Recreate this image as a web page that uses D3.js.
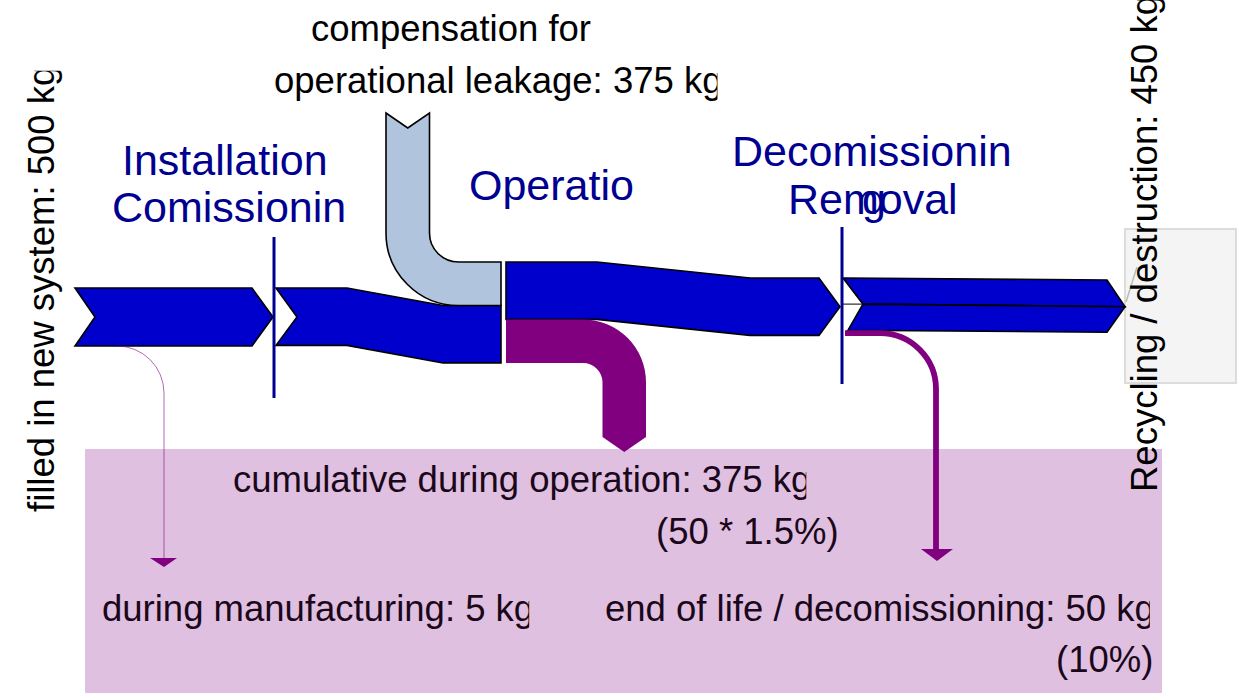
<!DOCTYPE html>
<html>
<head>
<meta charset="utf-8">
<script src="https://cdn.jsdelivr.net/npm/d3@7/dist/d3.min.js"></script>
<style>
  body { margin: 0; background: #fff; }
  svg text { font-family: "Liberation Sans", Arial, sans-serif; }
</style>
</head>
<body>
<div id="vis"></div>
<script>
const width = 1240;
const height = 693;

// flows in kg
const inflowNames = ["filled in new system", "compensation for operational leakage"];
const inflowKg = [500, 375];
const lossNames = ["during manufacturing", "cumulative during operation", "end of life / decomissioning"];
const lossKg = [5, 375, 50];
const lossNotes = ["", "(50 * 1.5%)", "(10%)"];
const outflowName = "Recycling / destruction";
const outflowKg = 450;
const outflowBandsKg = [225, 225];

// stage headings as they show up (the text boxes cut them)
const stageLines = [["Installation", "Comissionin"], ["Operatio"], ["Decomissionin", "Removal"]];

const blue = "#0000cc", lightBlue = "#b0c4de", purple = "#800080", navy = "#000090";

// kg -> band thickness
const w = d3.scaleLinear().domain([0, d3.max(inflowKg)]).range([0, 58]);

// x of stage borders
const xs = d3.scaleOrdinal()
  .domain(["in", "install", "operation", "decom", "out"])
  .range([75, 274, 503, 842, 1125]);

const svg = d3.select("#vis").append("svg")
  .attr("width", width)
  .attr("height", height);

const defs = svg.append("defs");
let clipId = 0;

// emissions box
svg.append("rect")
  .attr("x", 85).attr("y", 449)
  .attr("width", 1077).attr("height", 260)
  .attr("fill", "#e0c0e0");

// recycling box
svg.append("rect")
  .attr("x", xs("out")).attr("y", 229)
  .attr("width", 111).attr("height", 154)
  .attr("fill", "#f4f4f4").attr("stroke", "#dcdcdc").attr("stroke-width", 2);

svg.append("line")
  .attr("x1", xs("out") + 1).attr("y1", 302)
  .attr("x2", xs("out") + 12).attr("y2", 267)
  .attr("stroke", "#bbb").attr("stroke-width", 1.5);

function poly(pts) {
  const p = d3.path();
  pts.forEach((d, i) => i ? p.lineTo(d[0], d[1]) : p.moveTo(d[0], d[1]));
  p.closePath();
  return p.toString();
}

const arrows = svg.append("g")
  .attr("stroke", "#000").attr("stroke-width", 1.6).attr("stroke-linejoin", "miter");

// ---- stage 1: filled in
const t1 = 288, b1 = t1 + w(inflowKg[0]), m1 = (t1 + b1) / 2;
const x0 = xs("in"), x1 = xs("install");
arrows.append("path")
  .attr("d", poly([[x0, t1], [x1 - 22, t1], [x1 - 1, m1], [x1 - 22, b1], [x0, b1], [x0 + 20, m1]]))
  .attr("fill", blue);

// ---- stage 2: after installation, bends down under the compensation flow
const opTop = 262;
const kg2 = inflowKg[0] - lossKg[0];
const t2 = opTop + w(inflowKg[1]), b2 = t2 + w(kg2);
const x2 = xs("operation");
arrows.append("path")
  .attr("d", poly([[x1 + 2, t1], [347, t1], [443, t2], [x2 - 2, t2],
    [x2 - 2, b2], [443, b2], [347, t1 + w(kg2)], [x1 + 2, t1 + w(kg2)], [x1 + 23, m1]]))
  .attr("fill", blue);

// ---- compensation inflow (L shaped)
const cw = w(inflowKg[1]);
const cx = 386, rIn = 29, rOut = rIn + cw;
const ccx = cx + rOut, ccy = t2 - rOut;
{
  const p = d3.path();
  p.moveTo(cx, 113);
  p.lineTo(cx + cw / 2, 128);
  p.lineTo(cx + cw, 113);
  p.lineTo(cx + cw, ccy);
  p.arc(ccx, ccy, rIn, Math.PI, Math.PI / 2, true);
  p.lineTo(x2 - 2, opTop);
  p.lineTo(x2 - 2, t2);
  p.lineTo(ccx, t2);
  p.arc(ccx, ccy, rOut, Math.PI / 2, Math.PI, false);
  p.closePath();
  arrows.append("path").attr("d", p.toString()).attr("fill", lightBlue);
}

// ---- operation
const kgOp = inflowKg[0] - lossKg[0];
const bOp = opTop + w(kgOp);
const decTop = 278;
const x3 = xs("decom");
const mOp = (decTop + decTop + w(kgOp)) / 2;
arrows.append("path")
  .attr("d", poly([[x2 + 3, opTop], [597, opTop], [750, decTop], [x3 - 23, decTop],
    [x3 - 2, mOp], [x3 - 23, decTop + w(kgOp)], [750, decTop + w(kgOp)], [597, bOp], [x2 + 3, bOp]]))
  .attr("fill", blue);

// operation losses (purple bend)
{
  const pw = w(lossKg[1]);
  const R = 63, r = R - pw;
  const pcx = 583, pcy = bOp + R;
  const p = d3.path();
  p.moveTo(x2 + 3, bOp);
  p.lineTo(pcx, bOp);
  p.arc(pcx, pcy, R, -Math.PI / 2, 0, false);
  p.lineTo(pcx + R, 437);
  p.lineTo(pcx + (R + r) / 2, 452);
  p.lineTo(pcx + r, 437);
  p.lineTo(pcx + r, pcy);
  p.arc(pcx, pcy, r, 0, -Math.PI / 2, true);
  p.lineTo(x2 + 3, bOp + pw);
  p.closePath();
  svg.append("path").attr("d", p.toString()).attr("fill", purple);
}

// ---- decommissioning / recycling (two bands)
const bandMid = decTop + w(outflowBandsKg[0]);
const decBot = bandMid + w(outflowBandsKg[1]);
const xe = xs("out");
const tipY = mOp;
arrows.append("path")
  .attr("d", poly([[x3 + 1, decTop], [xe - 18, decTop + 2], [xe, tipY], [x3 + 21, bandMid]]))
  .attr("fill", blue);
arrows.append("path")
  .attr("d", poly([[x3 + 21, bandMid], [xe, tipY], [xe - 18, decBot + 2], [x3 + 6, decBot]]))
  .attr("fill", blue);
arrows.append("line")
  .attr("x1", x3).attr("y1", bandMid).attr("x2", x3 + 21).attr("y2", bandMid)
  .attr("stroke-width", 1);

// end of life loss
{
  const sw = w(lossKg[2]);
  const yy = decBot + sw / 2;
  const vx = 936, rr = 56;
  const p = d3.path();
  p.moveTo(x3 + 3, yy);
  p.lineTo(vx - rr, yy);
  p.arcTo(vx, yy, vx, yy + rr, rr);
  p.lineTo(vx, 550);
  svg.append("path").attr("d", p.toString())
    .attr("fill", "none").attr("stroke", purple).attr("stroke-width", sw);
  svg.append("path").attr("d", poly([[vx - 15, 549], [vx + 17, 549], [vx + 1, 561]])).attr("fill", purple);
}

// manufacturing loss
{
  const sw = Math.max(w(lossKg[0]), 0.6);
  const vx = 164, rr = 47;
  const p = d3.path();
  p.moveTo(vx - rr, b1);
  p.arcTo(vx, b1, vx, b1 + rr, rr);
  p.lineTo(vx, 558);
  svg.append("path").attr("d", p.toString())
    .attr("fill", "none").attr("stroke", purple).attr("stroke-width", sw);
  svg.append("path").attr("d", poly([[vx - 14, 558], [vx + 13, 558], [vx, 567]])).attr("fill", purple);
}

// stage borders
[x1, x3].forEach((x, i) => {
  svg.append("line")
    .attr("x1", x).attr("x2", x)
    .attr("y1", i ? 227 : 237).attr("y2", i ? 384 : 398)
    .attr("stroke", navy).attr("stroke-width", 3);
});

// ---- text
// cut: pixels taken off the right end, like the clipped text boxes of the original
function label(str, x, y, size, color, rotate, cut) {
  const g = svg.append("g").attr("transform", `translate(${x},${y})` + (rotate ? " rotate(-90)" : ""));
  const t = g.append("text")
    .attr("x", 0).attr("y", 0)
    .attr("font-size", size)
    .attr("fill", color)
    .text(str);
  if (cut) {
    const len = t.node().getComputedTextLength();
    const id = "clip" + (clipId++);
    defs.append("clipPath").attr("id", id)
      .append("rect").attr("x", -20).attr("y", -size * 1.5)
      .attr("width", len + 20 - cut).attr("height", size * 3);
    g.attr("clip-path", `url(#${id})`);
  }
  return t;
}

const big = 36.5, head = 43;
const inkColor = "#1a081a";
const cut = 5;

label(inflowNames[0] + ": " + inflowKg[0] + " kg", 54, 512, big, "#000", true, cut);
label(outflowName + ": " + outflowKg + " kg", 1157, 492, big, "#000", true, cut);

label("compensation for", 311, 41, big, "#000");
label("operational leakage: " + inflowKg[1] + " kg", 274, 93, big, "#000", false, cut);

label(lossNames[1] + ": " + lossKg[1] + " kg", 233, 492, big, inkColor, false, cut);
label(lossNotes[1], 656, 544, big, inkColor);
label(lossNames[0] + ": " + lossKg[0] + " kg", 102, 621, big, inkColor, false, cut);
label(lossNames[2] + ": " + lossKg[2] + " kg", 605, 621, big, inkColor, false, cut);
label(lossNotes[2], 1056, 672, big, inkColor);

// stage headings
label(stageLines[0][0], 122, 175, head, navy);
label(stageLines[0][1], 112, 222, head, navy);
label(stageLines[1][0], 469, 200, head, navy);
label(stageLines[2][0], 732, 166, head, navy);
label(stageLines[2][1], 788, 214, head, navy);
label("g", 862, 214, head, navy);
</script>
</body>
</html>
